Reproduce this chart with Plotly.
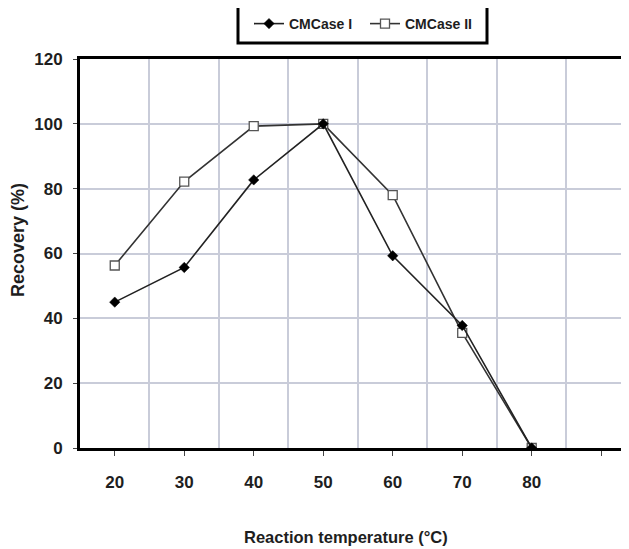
import plotly.graph_objects as go

temps = [20, 30, 40, 50, 60, 70, 80]
case1 = [45, 55.7, 82.7, 100, 59.3, 37.8, 0]
case2 = [56.3, 82.2, 99.3, 100, 78, 35.5, 0]
x_tickvals = [20, 30, 40, 50, 60, 70, 80, 90]
x_ticktext = ["20", "30", "40", "50", "60", "70", "80", ""]
y_tickvals = [0, 20, 40, 60, 80, 100, 120]
x_title = "Reaction temperature (°C)"
y_title = "Recovery (%)"

FONT = "Arial, Liberation Sans, sans-serif"
TXT = "#1e1e1e"
OFF = 8  # page body margin in the browser
W, H = 629 - OFF, 549 - OFF
# target pixel positions in the window
PL, PT, PB, PR = 80, 59, 448, 629
ML, MT = PL - OFF, PT - OFF
MB = H - (PB - OFF)
MR = W - (PR - OFF)
PH = PB - PT
PW = PR - PL

fig = go.Figure()
fig.add_trace(go.Scatter(
    x=temps, y=case2, name="CMCase II", mode="lines+markers",
    line=dict(color="#333333", width=1.6),
    marker=dict(symbol="square", size=9, color="white",
                line=dict(color="#555555", width=1.3)),
))
fig.add_trace(go.Scatter(
    x=temps, y=case1, name="CMCase I", mode="lines+markers",
    line=dict(color="#222222", width=1.6),
    marker=dict(symbol="diamond", size=8, color="black",
                line=dict(color="black", width=0.5)),
))

def py2paper(py):
    return (PB - py) / PH

def px2paper(px):
    return (px - PL) / PW

# legend frame (open at the top)
fig.add_shape(type="rect", xref="paper", yref="paper",
              x0=px2paper(238), x1=px2paper(487),
              y0=py2paper(43), y1=py2paper(-20),
              line=dict(color="black", width=3), fillcolor="rgba(0,0,0,0)")

# axis titles
fig.add_annotation(text=x_title, xref="paper", yref="paper",
                   x=px2paper(346), y=py2paper(537), showarrow=False,
                   xanchor="center", yanchor="middle",
                   font=dict(size=16.5, family=FONT, weight="bold", color=TXT))
fig.add_annotation(text=y_title, xref="paper", yref="paper",
                   x=px2paper(18), y=py2paper(240), showarrow=False,
                   textangle=-90, xanchor="center", yanchor="middle",
                   font=dict(size=18, family=FONT, weight="bold", color=TXT))

fig.update_layout(
    width=W, height=H,
    margin=dict(l=ML, r=MR, t=MT, b=MB, autoexpand=False),
    plot_bgcolor="white", paper_bgcolor="white",
    font=dict(family=FONT, color=TXT, weight="bold"),
    showlegend=True,
    legend=dict(orientation="h", traceorder="reversed",
                x=px2paper(249), xanchor="left",
                y=py2paper(8), yanchor="top",
                font=dict(size=14, family=FONT, weight="bold", color=TXT),
                bgcolor="rgba(0,0,0,0)", borderwidth=0,
                entrywidth=71, entrywidthmode="pixels"),
    xaxis=dict(
        range=[15, 94], tickvals=x_tickvals, ticktext=x_ticktext,
        showgrid=False, zeroline=False,
        showline=True, linecolor="black", linewidth=3, mirror=True,
        ticks="outside", ticklen=5, tickwidth=1, tickcolor="#444444",
        ticklabelstandoff=12,
        tickfont=dict(size=17, family=FONT, weight="bold", color=TXT),
        minor=dict(tick0=25, dtick=10, showgrid=True, gridcolor="#c9ccd9",
                   gridwidth=2, ticks=""),
    ),
    yaxis=dict(
        range=[0, 120], tickvals=y_tickvals,
        showgrid=True, gridcolor="#c9ccd9", gridwidth=2, zeroline=False,
        showline=True, linecolor="black", linewidth=3, mirror=False,
        ticks="outside", ticklen=4, tickwidth=1, tickcolor="#444444",
        ticklabelstandoff=7,
        tickfont=dict(size=17, family=FONT, weight="bold", color=TXT),
    ),
)

fig.write_html("out.html")
